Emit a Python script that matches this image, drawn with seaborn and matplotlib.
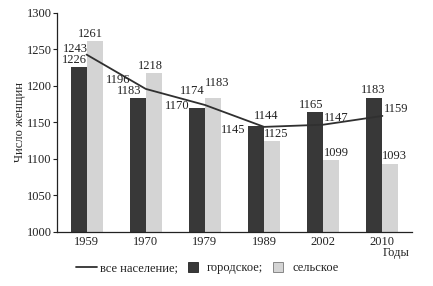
import numpy as np
import pandas as pd
import matplotlib
matplotlib.use("Agg")
import matplotlib.pyplot as plt
import seaborn as sns
from matplotlib.lines import Line2D

years = ["1959", "1970", "1979", "1989", "2002", "2010"]
urban = [1226, 1183, 1170, 1145, 1165, 1183]
rural = [1261, 1218, 1183, 1125, 1099, 1093]
total = [1243, 1196, 1174, 1144, 1147, 1159]
series_names = ["городское", "сельское"]
legend_labels = ["все население;", "городское;", "сельское"]
y_ticks = [1000, 1050, 1100, 1150, 1200, 1250, 1300]

DARK = "#383838"
LIGHT = "#d4d4d4"
LINE = "#303030"

sns.set_theme(style="white")
plt.rcParams["font.family"] = ["Liberation Serif", "DejaVu Serif"]
plt.rcParams["font.size"] = 9

df = pd.DataFrame({
    "year": years * 2,
    "value": urban + rural,
    "type": [series_names[0]] * len(years) + [series_names[1]] * len(years),
})

fig = plt.figure(figsize=(4.33, 2.86), dpi=100)
ax = fig.add_axes([57 / 433, 1 - 232 / 286, (412 - 57) / 433, (232 - 13) / 286])

sns.barplot(data=df, x="year", y="value", hue="type", order=years,
            hue_order=series_names, palette=[DARK, LIGHT], width=0.54,
            saturation=1, legend=False, ax=ax, linewidth=0)
sns.lineplot(x=np.arange(len(years)), y=total, ax=ax, color=LINE, lw=1.3)

ax.set_xlim(-0.5, len(years) - 0.5)
ax.set_ylim(1000, 1300)
ax.set_yticks(y_ticks)
ax.set_xlabel("")
ax.set_ylabel("Число женщин", fontsize=9, labelpad=0)
for s in ["top", "right"]:
    ax.spines[s].set_visible(False)
for s in ["left", "bottom"]:
    ax.spines[s].set_color("#222222")
    ax.spines[s].set_linewidth(0.9)

ax.tick_params(axis="x", which="major", length=0, pad=3, labelsize=9, colors="#222222")
ax.set_xticks(np.arange(len(years)) + 0.5, minor=True)
ax.tick_params(axis="x", which="minor", direction="in", length=3, width=0.8, color="#222222")
ax.tick_params(axis="y", direction="out", length=3, width=0.8, pad=1, labelsize=9,
               colors="#222222", left=True)

hw = 0.135
# label offsets in pixels: (dx, dy, ha, va)
offs_urban = [(-4, 1, "center", "bottom"), (-9, 1, "center", "bottom"),
              (1, 2, "right", "center"), (-3, -4, "right", "center"),
              (-4, 1, "center", "bottom"), (-1, 2, "center", "bottom")]
anch_urban = [0, 0, -1, -1, 0, 0]
offs_rural = [(-4, 1, "center", "bottom"), (-3, 1, "center", "bottom"),
              (4, 9, "center", "bottom"), (-8, 1, "left", "bottom"),
              (5, 1, "center", "bottom"), (4.5, 2, "center", "bottom")]
offs_total = [(1, 0, "right", "bottom"), (-15, 3, "right", "bottom"),
              (0, 8, "right", "bottom"), (2, 5, "center", "bottom"),
              (1, 1, "left", "bottom"), (2, 1, "left", "bottom")]

for i in range(len(years)):
    dx, dy, ha, va = offs_urban[i]
    x = i - hw + anch_urban[i] * hw
    ax.annotate(str(urban[i]), (x, urban[i]), xytext=(dx, dy),
                textcoords="offset pixels", ha=ha, va=va, fontsize=9, color="#222222")
    dx, dy, ha, va = offs_rural[i]
    ax.annotate(str(rural[i]), (i + hw, rural[i]), xytext=(dx, dy),
                textcoords="offset pixels", ha=ha, va=va, fontsize=9, color="#222222")
    dx, dy, ha, va = offs_total[i]
    ax.annotate(str(total[i]), (i, total[i]), xytext=(dx, dy),
                textcoords="offset pixels", ha=ha, va=va, fontsize=9, color="#222222")

ax.annotate("Годы", (1, 0), xycoords="axes fraction", xytext=(-2, -21),
            textcoords="offset pixels", ha="right", va="center", fontsize=9,
            color="#222222")

handles = [
    Line2D([], [], color=LINE, lw=1.3),
    Line2D([], [], ls="none", marker="s", markersize=7.5, markerfacecolor=DARK,
           markeredgecolor="#222222", markeredgewidth=0.6),
    Line2D([], [], ls="none", marker="s", markersize=7.5, markerfacecolor=LIGHT,
           markeredgecolor="#777777", markeredgewidth=0.6),
]
fig.legend(handles, legend_labels, loc="center", bbox_to_anchor=(207 / 433, 1 - 268 / 286),
           ncol=3, frameon=False, handlelength=1.7, handletextpad=0.3,
           columnspacing=0.3, fontsize=9, borderpad=0, labelcolor="#222222")

fig.savefig("out.png", dpi=100)
